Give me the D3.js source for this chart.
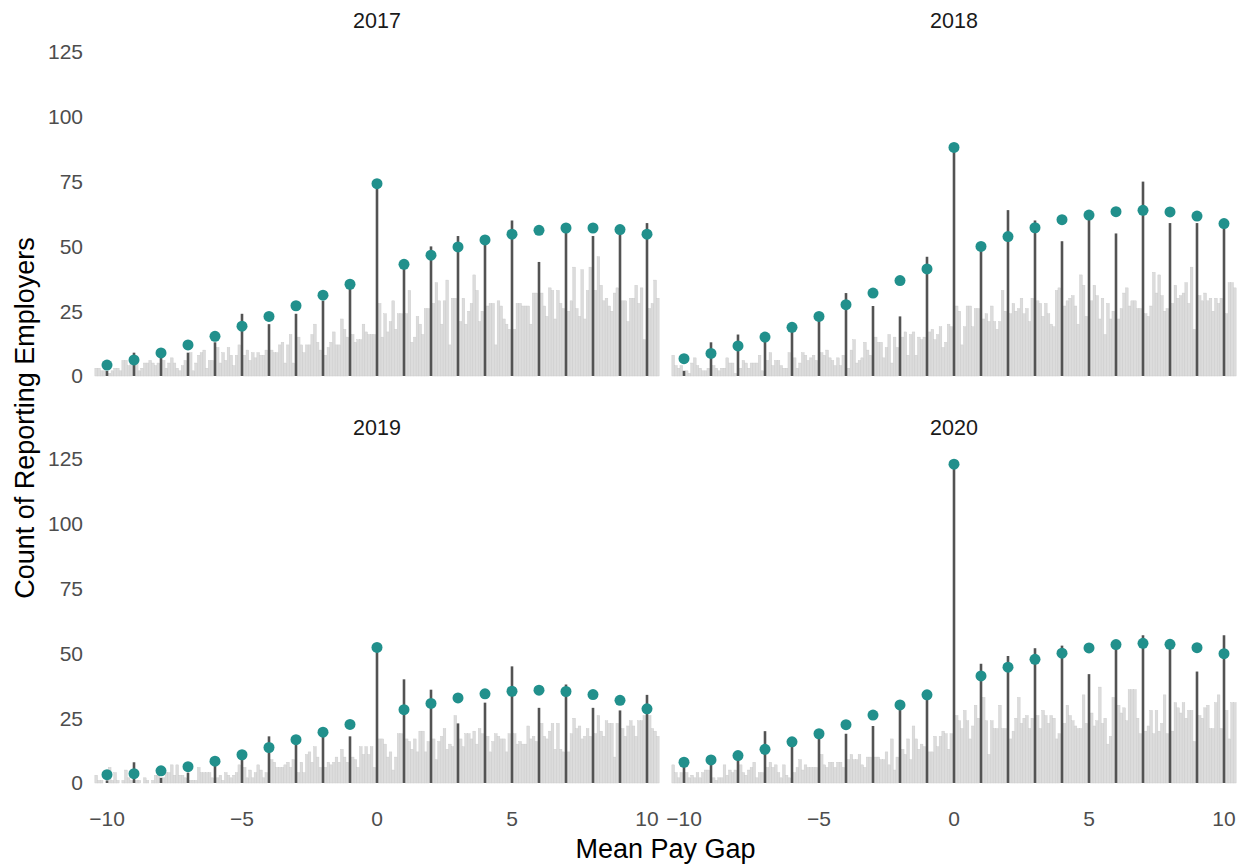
<!DOCTYPE html>
<html>
<head>
<meta charset="utf-8">
<script src="https://cdn.jsdelivr.net/npm/d3@7"></script>
<style>
  body { margin: 0; background: #ffffff; }
  svg { display: block; }
  text { font-family: "Liberation Sans", Arial, Helvetica, sans-serif; }
</style>
</head>
<body>
<svg id="chart" width="1247" height="868"></svg>
<script>
// Reporting years, one facet each
const years = ["2017", "2018", "2019", "2020"];

// Whole-number pay gaps (%), where reported figures bunch up
const wholeGaps = d3.range(-10, 11);

// Axis ticks
const yTicks = [0, 25, 50, 75, 100, 125];
const xTicks = [-10, -5, 0, 5, 10];

// Employers per 0.1-point bin that is not a whole number:
// -10.4..-10.1, then nine bins per unit (-9.9..-9.1, ..., 9.1..9.9), then 10.1..10.4
const bins2017 = [3,3,2,2, 1,2,3,3,2,6,6,4,5, 5,2,3,5,5,6,5,4,5, 6,3,5,7,5,3,2,4,6, 9,2,5,8,9,10,3,6,6,
  11,5,9,6,11,8,4,8,12, 8,10,6,9,7,9,8,8,10, 10,9,9,12,13,5,12,16,5, 15,12,9,12,12,16,20,13,10,
  8,11,13,17,12,12,22,18,15, 16,13,14,14,20,17,16,16,16, 28,15,24,17,21,29,18,24,24,
  24,33,13,15,23,20,16,26,26, 28,36,29,20,29,37,12,30,30, 21,30,20,25,28,39,33,21,25,
  27,28,28,12,29,27,22,20,18, 18,28,28,27,27,27,20,32,32, 32,27,23,34,33,22,33,28,26,
  25,29,42,26,23,41,22,33,42, 33,46,35,29,30,27,25,32,34, 29,29,21,30,30,35,28,34,14, 26,28,37,30];
const bins2018 = [8,4,3,4, 2,1,5,7,4,3,2,2,3, 4,3,2,3,3,7,5,5,1, 3,6,5,3,5,5,5,8,2, 6,9,4,6,6,4,3,3,9,
  7,3,5,9,8,6,7,8,6, 9,8,10,7,6,4,7,4,8, 3,10,14,5,6,7,13,10,8, 15,13,13,7,11,16,5,15,11,
  15,17,8,16,17,8,15,14,15, 17,18,14,16,19,11,13,20,19, 27,25,12,19,27,27,19,26,26,
  22,24,21,27,21,18,21,33,25, 24,28,25,26,30,24,26,21,30, 29,28,23,28,24,20,19,33,34,
  27,29,30,31,27,20,39,35,23, 29,35,31,22,30,16,28,22,25, 22,26,32,34,27,29,29,26,26,
  24,23,27,40,32,39,31,25,26, 28,35,30,31,32,36,28,42,18, 31,29,32,29,30,25,30,28,30, 24,36,36,34];
const bins2019 = [3,1,1,0, 6,1,4,1,0,1,5,2,1, 1,1,0,2,1,0,1,3,3, 2,4,4,7,3,7,3,3,2, 1,1,1,6,4,4,4,4,2,
  2,3,1,4,3,2,3,4,7, 6,2,5,2,4,7,5,2,4, 9,8,6,6,6,7,8,6,9, 4,8,4,11,12,8,14,10,6,
  6,8,7,8,10,8,13,10,8, 10,9,6,14,11,14,11,14,6, 17,17,15,10,12,5,10,19,19,
  17,16,13,17,12,20,20,12,16, 17,9,16,18,21,13,15,14,26, 17,14,19,19,17,20,15,21,19,
  18,12,16,19,18,17,17,12,19, 19,15,16,15,15,22,17,18,16, 23,18,17,20,23,13,23,13,12,
  12,19,25,21,22,17,18,21,18, 19,26,20,18,24,23,23,10,23, 21,18,22,24,22,18,24,24,26, 26,21,20,18];
const bins2020 = [7,4,2,4, 4,2,3,2,4,2,4,5,5, 2,1,2,2,7,3,5,4,5, 7,4,3,5,6,8,2,4,4, 6,8,6,7,4,2,7,3,2,
  4,6,9,5,7,6,6,6,6, 11,7,6,8,8,6,8,8,6, 9,11,9,9,11,7,6,10,10, 10,10,9,9,12,7,17,5,10,
  13,11,17,9,22,17,13,15,14, 12,12,18,14,18,20,19,13,19, 26,24,21,28,24,17,22,30,25,
  33,24,11,24,21,21,30,21,21, 17,20,25,33,23,25,26,21,25, 26,21,28,26,23,26,25,17,19,
  23,30,26,24,22,21,21,34,23, 27,22,24,37,23,25,15,18,33, 30,27,29,24,36,36,36,25,19,
  20,22,28,19,28,20,23,34,19, 20,31,29,27,31,25,28,28,16, 26,25,29,30,21,21,31,34,21, 28,17,31,31];

// Employers reporting exactly a whole-number gap, -10..10
const whole2017 = [2, 9, 7, 9, 13, 24, 20, 24, 29, 34, 74, 42, 50, 54, 52, 60, 44, 56, 54, 55, 59];
const whole2018 = [2, 13, 16, 14, 18, 22, 32, 27, 23, 46, 88, 49, 64, 60, 52, 61, 55, 75, 59, 59, 58];
const whole2019 = [1, 8, 2, 4, 8, 10, 18, 16, 18, 18, 52, 40, 36, 23, 31, 45, 29, 38, 29, 28, 34];
const whole2020 = [7, 8, 10, 20, 15, 18, 19, 22, 29, 33, 123, 46, 49, 52, 53, 42, 52, 57, 53, 43, 57];

// Expected counts at each whole-number gap, -10..10
const expected2017 = [4.2, 6.2, 8.9, 12, 15.3, 19.2, 23, 27.1, 31.2, 35.4, 74.2, 43.1, 46.6, 49.8, 52.5, 54.7, 56.2, 57.1, 57.1, 56.5, 54.7];
const expected2018 = [6.7, 8.7, 11.6, 15, 18.8, 23, 27.5, 32, 36.8, 41.3, 88.2, 50, 53.8, 57.2, 60.3, 62.1, 63.4, 63.9, 63.3, 61.7, 58.8];
const expected2019 = [3.2, 3.6, 4.7, 6.3, 8.4, 10.9, 13.7, 16.7, 19.6, 22.6, 52.3, 28.3, 30.7, 32.8, 34.4, 35.4, 35.8, 35.3, 34.1, 31.9, 28.6];
const expected2020 = [8, 8.9, 10.6, 13, 15.9, 19, 22.5, 26.2, 30.1, 34, 123, 41.3, 44.7, 47.7, 50.1, 52.1, 53.4, 53.9, 53.5, 52.2, 49.9];

// Centres of the non-whole 0.1-point bins, -10.4..10.4
const binGaps = d3.range(-104, 105).filter(k => k % 10 !== 0).map(k => k / 10);

const facets = [
  { year: years[0], bins: bins2017, whole: whole2017, expected: expected2017, col: 0, row: 0 },
  { year: years[1], bins: bins2018, whole: whole2018, expected: expected2018, col: 1, row: 0 },
  { year: years[2], bins: bins2019, whole: whole2019, expected: expected2019, col: 0, row: 1 },
  { year: years[3], bins: bins2020, whole: whole2020, expected: expected2020, col: 1, row: 1 }
];

const svg = d3.select("#chart");
const colCentre = [377, 954];
const rowBase = [376, 783];
const unitPx = 27;
const panelH = 324;

const xScales = colCentre.map(c => d3.scaleLinear().domain([-10, 10]).range([c - 10 * unitPx, c + 10 * unitPx]));
const yScales = rowBase.map(b => d3.scaleLinear().domain([0, 125]).range([b, b - panelH]));

const barW = xScales[0](0.1) - xScales[0](0);

facets.forEach(f => {
  const x = xScales[f.col];
  const y = yScales[f.row];
  const g = svg.append("g").attr("class", "facet");

  // Background histogram of non-whole gaps
  g.append("g").selectAll("rect")
    .data(binGaps.map((gap, i) => ({ gap, n: f.bins[i] })))
    .join("rect")
    .attr("x", d => x(d.gap) - barW / 2)
    .attr("width", barW)
    .attr("y", d => y(d.n))
    .attr("height", d => y(0) - y(d.n))
    .attr("fill", "#dcdcdc")
    .attr("stroke", "#c9c9c9")
    .attr("stroke-width", 0.4);

  // Spikes at whole-number gaps
  g.append("g").selectAll("line")
    .data(wholeGaps.map((gap, i) => ({ gap, n: f.whole[i] })))
    .join("line")
    .attr("x1", d => x(d.gap)).attr("x2", d => x(d.gap))
    .attr("y1", y(0)).attr("y2", d => y(d.n))
    .attr("stroke", "#535353")
    .attr("stroke-width", 2.6);

  // Expected counts
  g.append("g").selectAll("circle")
    .data(wholeGaps.map((gap, i) => ({ gap, n: f.expected[i] })))
    .join("circle")
    .attr("cx", d => x(d.gap))
    .attr("cy", d => y(d.n))
    .attr("r", 5.5)
    .attr("fill", "#21908C");

  // Facet strip label
  g.append("text")
    .attr("x", x(0))
    .attr("y", y(125) - 24)
    .attr("text-anchor", "middle")
    .attr("font-size", 21.5)
    .attr("fill", "#1a1a1a")
    .text(f.year);

  // Y tick labels on the left column only
  if (f.col === 0) {
    g.append("g").selectAll("text")
      .data(yTicks)
      .join("text")
      .attr("x", 83)
      .attr("y", d => y(d))
      .attr("dy", "0.35em")
      .attr("text-anchor", "end")
      .attr("font-size", 21)
      .attr("fill", "#4d4d4d")
      .text(d => d);
  }

  // X tick labels on the bottom row only
  if (f.row === 1) {
    g.append("g").selectAll("text")
      .data(xTicks)
      .join("text")
      .attr("x", d => x(d))
      .attr("y", 826)
      .attr("text-anchor", "middle")
      .attr("font-size", 21)
      .attr("fill", "#4d4d4d")
      .text(d => d3.format("")(d).replace("-", "\u2212"));
  }
});

// Axis titles
svg.append("text")
  .attr("x", (xScales[0](-10) + xScales[1](10)) / 2)
  .attr("y", 858)
  .attr("text-anchor", "middle")
  .attr("font-size", 27)
  .attr("fill", "#000000")
  .text("Mean Pay Gap");

svg.append("text")
  .attr("transform", "translate(34,418) rotate(-90)")
  .attr("text-anchor", "middle")
  .attr("font-size", 27)
  .attr("fill", "#000000")
  .text("Count of Reporting Employers");
</script>
</body>
</html>
